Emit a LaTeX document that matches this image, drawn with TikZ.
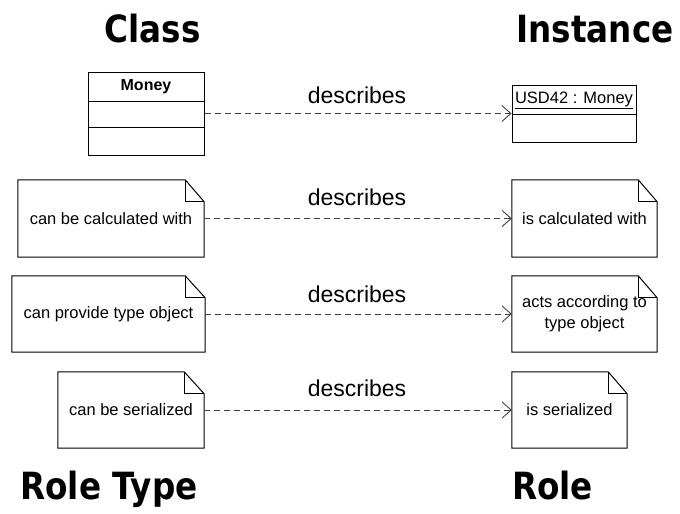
\documentclass[tikz,border=0pt]{standalone}
\usepackage{fontspec}
\setmainfont{Liberation Sans}
\newfontfamily\headfont[FakeStretch=0.87]{DejaVu Sans Bold}
\usetikzlibrary{arrows.meta,calc}

\tikzset{
  box/.style={draw=black, line width=1pt, inner sep=0pt},
  notetext/.style={inner sep=0pt, font=\fontsize{16.5}{21}\selectfont, align=center},
  header/.style={inner sep=0pt, anchor=base, font=\headfont\fontsize{37.5}{40}\selectfont},
  relation/.style={draw=black!75, line width=0.9pt, dash pattern=on 6pt off 4pt,
    -{Straight Barb[length=9pt,width=16pt,line width=0.9pt]}},
  rellabel/.style={inner sep=0pt, font=\fontsize{23}{26}\selectfont},
  fold/.store in=\foldsize, fold=20
}

% UML note outline with a dog-eared top right corner, drawn around node #1
\newcommand\umlnote[2][20]{%
  \draw[line width=1pt, line join=miter]
    (#2.north west) -- ([xshift=-#1pt]#2.north east) -- ([yshift=-22pt]#2.north east)
    -- (#2.south east) -- (#2.south west) -- cycle;
  \draw[line width=1pt]
    ([xshift=-#1pt]#2.north east) -- ([xshift=-#1pt,yshift=-22pt]#2.north east)
    -- ([yshift=-22pt]#2.north east);
}

\begin{document}
\begin{tikzpicture}[x=1pt,y=-1pt]
\useasboundingbox (0,0) rectangle (680,514);

% column headings
\node[header] (hclass) at (152.5,42) {Class};
\node[header] (hinst) at (595,42) {Instance};
\node[header] (hroletype) at (109,499) {Role Type};
\node[header] (hrole) at (552.5,499) {Role};

% class Money
\node[box, minimum width=116pt, minimum height=83pt] (money) at (146,113.5) {};
\draw[line width=1pt] ($(money.north west)+(0,30)$) -- ($(money.north east)+(0,30)$);
\draw[line width=1pt] ($(money.north west)+(0,56)$) -- ($(money.north east)+(0,56)$);
\node[inner sep=0pt, font=\bfseries\fontsize{16}{18}\selectfont] (moneyname) at (146,87) {Money};

% object USD42
\node[box, minimum width=124pt, minimum height=57pt] (usd) at (574,113.5) {};
\draw[line width=1pt] ($(usd.north west)+(0,30)$) -- ($(usd.north east)+(0,30)$);
\node[inner sep=0pt, font=\fontsize{16.5}{18}\selectfont] (usdname) at (574,100) {\underline{USD42 : Money}};

% role type notes
\node[notetext, minimum width=186pt, minimum height=77pt] (calcA) at (111,218.5) {can be calculated with};
\node[notetext, minimum width=193pt, minimum height=76pt] (typeA) at (108.5,314) {can provide type object};
\node[notetext, minimum width=146pt, minimum height=76pt] (serA) at (131,410) {can be serialized};

% role notes
\node[notetext, minimum width=145pt, minimum height=77pt] (calcB) at (584.5,218.5) {is calculated with};
\node[notetext, minimum width=145pt, minimum height=76pt] (typeB) at (584.5,314) {acts according to\\type object};
\node[notetext, minimum width=115pt, minimum height=76pt] (serB) at (569.5,410) {is serialized};

\umlnote[19]{calcA}
\umlnote[20]{typeA}
\umlnote[20]{serA}
\umlnote[19]{calcB}
\umlnote[19]{typeB}
\umlnote[19]{serB}

% describes relations
\draw[relation] (money.east) -- (usd.west);
\draw[relation] (calcA.east) -- (calcB.west);
\draw[relation] (typeA.east) -- (typeB.west);
\draw[relation] (serA.east) -- (serB.west);

\node[rellabel] (d1) at (357,95) {describes};
\node[rellabel] (d2) at (357,197) {describes};
\node[rellabel] (d3) at (357,294) {describes};
\node[rellabel] (d4) at (357,388) {describes};
\end{tikzpicture}
\end{document}
